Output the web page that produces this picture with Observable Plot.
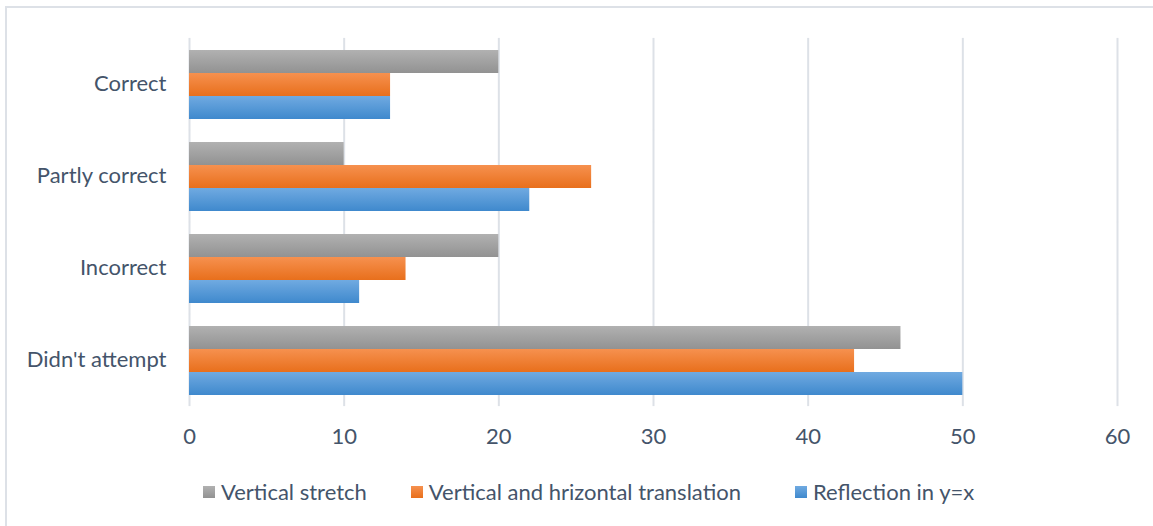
<!DOCTYPE html>
<html>
<head>
<meta charset="utf-8">
<script src="https://cdn.jsdelivr.net/npm/d3@7"></script>
<script src="https://cdn.jsdelivr.net/npm/@observablehq/plot@0.6"></script>
<style>
  html, body { margin: 0; padding: 0; background: #fff; overflow: hidden; }
  body { width: 1153px; height: 526px; position: relative; font-family: Lato, "Noto Sans", sans-serif; color: #44546a; }
  #frame { position: absolute; left: 5px; top: 6px; width: 1200px; height: 600px;
           border-left: 2px solid #dde1e7; border-top: 2px solid #dde1e7; }
  #chart { position: absolute; left: 0; top: 0; }
  #legend { position: absolute; left: 203px; top: 478px; display: flex; align-items: center; font-size: 22px; line-height: 28px; }
  .item { display: flex; align-items: center; margin-right: 44px; white-space: nowrap; }
  .item:nth-child(2) { margin-right: 54px; }
  .swatch { width: 12px; height: 12px; margin-right: 6px; }
</style>
</head>
<body>
<div id="frame"></div>
<div id="chart"></div>
<div id="legend"></div>
<script>
// Answer categories, top to bottom
const categories = ["Correct", "Partly correct", "Incorrect", "Didn't attempt"];
// Transformation tasks (series), drawn top to bottom within each group
const series = ["Vertical stretch", "Vertical and hrizontal translation", "Reflection in y=x"];
// Counts per category for each series
const verticalStretch = [20, 10, 20, 46];
const verticalHorizontalTranslation = [13, 26, 14, 43];
const reflectionInYx = [13, 22, 11, 50];
const xTicks = [0, 10, 20, 30, 40, 50, 60];

// Gradient fills per series: [id, top colour, bottom colour]
const gradients = [
  ["grad-gray", "#b1b1b1", "#929292"],
  ["grad-orange", "#f6914f", "#e86f1c"],
  ["grad-blue", "#70aae1", "#3f89cd"]
];

const seriesValues = [verticalStretch, verticalHorizontalTranslation, reflectionInYx];
const rows = categories.flatMap((category, i) =>
  series.map((s, j) => ({category, series: s, value: seriesValues[j][i]}))
);

const chart = Plot.plot({
  width: 1153,
  height: 465,
  marginTop: 37,
  marginBottom: 59,
  marginLeft: 189,
  marginRight: 36,
  style: {fontFamily: "Lato, 'Noto Sans', sans-serif", fontSize: "22px", color: "#44546a", background: "transparent"},
  x: {domain: [0, 60], ticks: xTicks, axis: null},
  fy: {domain: categories, paddingInner: 0.24, paddingOuter: 0.12, label: null, axis: null},
  y: {domain: series, padding: 0, axis: null},
  color: {type: "ordinal", domain: series, range: gradients.map(g => `url(#${g[0]})`)},
  marks: [
    Plot.gridX(xTicks, {stroke: "#dde1e7", strokeOpacity: 1, strokeWidth: 2, insetTop: -11.1, insetBottom: -11.1}),
    Plot.barX(rows, {fy: "category", y: "series", x: "value", fill: "series"}),
    Plot.axisX({ticks: xTicks, tickSize: 0, tickPadding: 33, label: null, fill: "#44546a"}),
    Plot.axisFy({anchor: "left", tickSize: 0, tickPadding: 23, label: null, fill: "#44546a", dy: -1})
  ]
});

// Vertical gradient definitions referenced by the bar fills
const defs = d3.select(chart).insert("defs", ":first-child");
for (const [id, top, bottom] of gradients) {
  const g = defs.append("linearGradient").attr("id", id).attr("x1", 0).attr("y1", 0).attr("x2", 0).attr("y2", 1);
  g.append("stop").attr("offset", "0%").attr("stop-color", top);
  g.append("stop").attr("offset", "100%").attr("stop-color", bottom);
}
document.getElementById("chart").append(chart);

// Legend below the plot
const legend = d3.select("#legend");
series.forEach((s, j) => {
  const item = legend.append("div").attr("class", "item");
  item.append("div").attr("class", "swatch")
    .style("background", `linear-gradient(${gradients[j][1]}, ${gradients[j][2]})`);
  item.append("span").text(s);
});
</script>
</body>
</html>
